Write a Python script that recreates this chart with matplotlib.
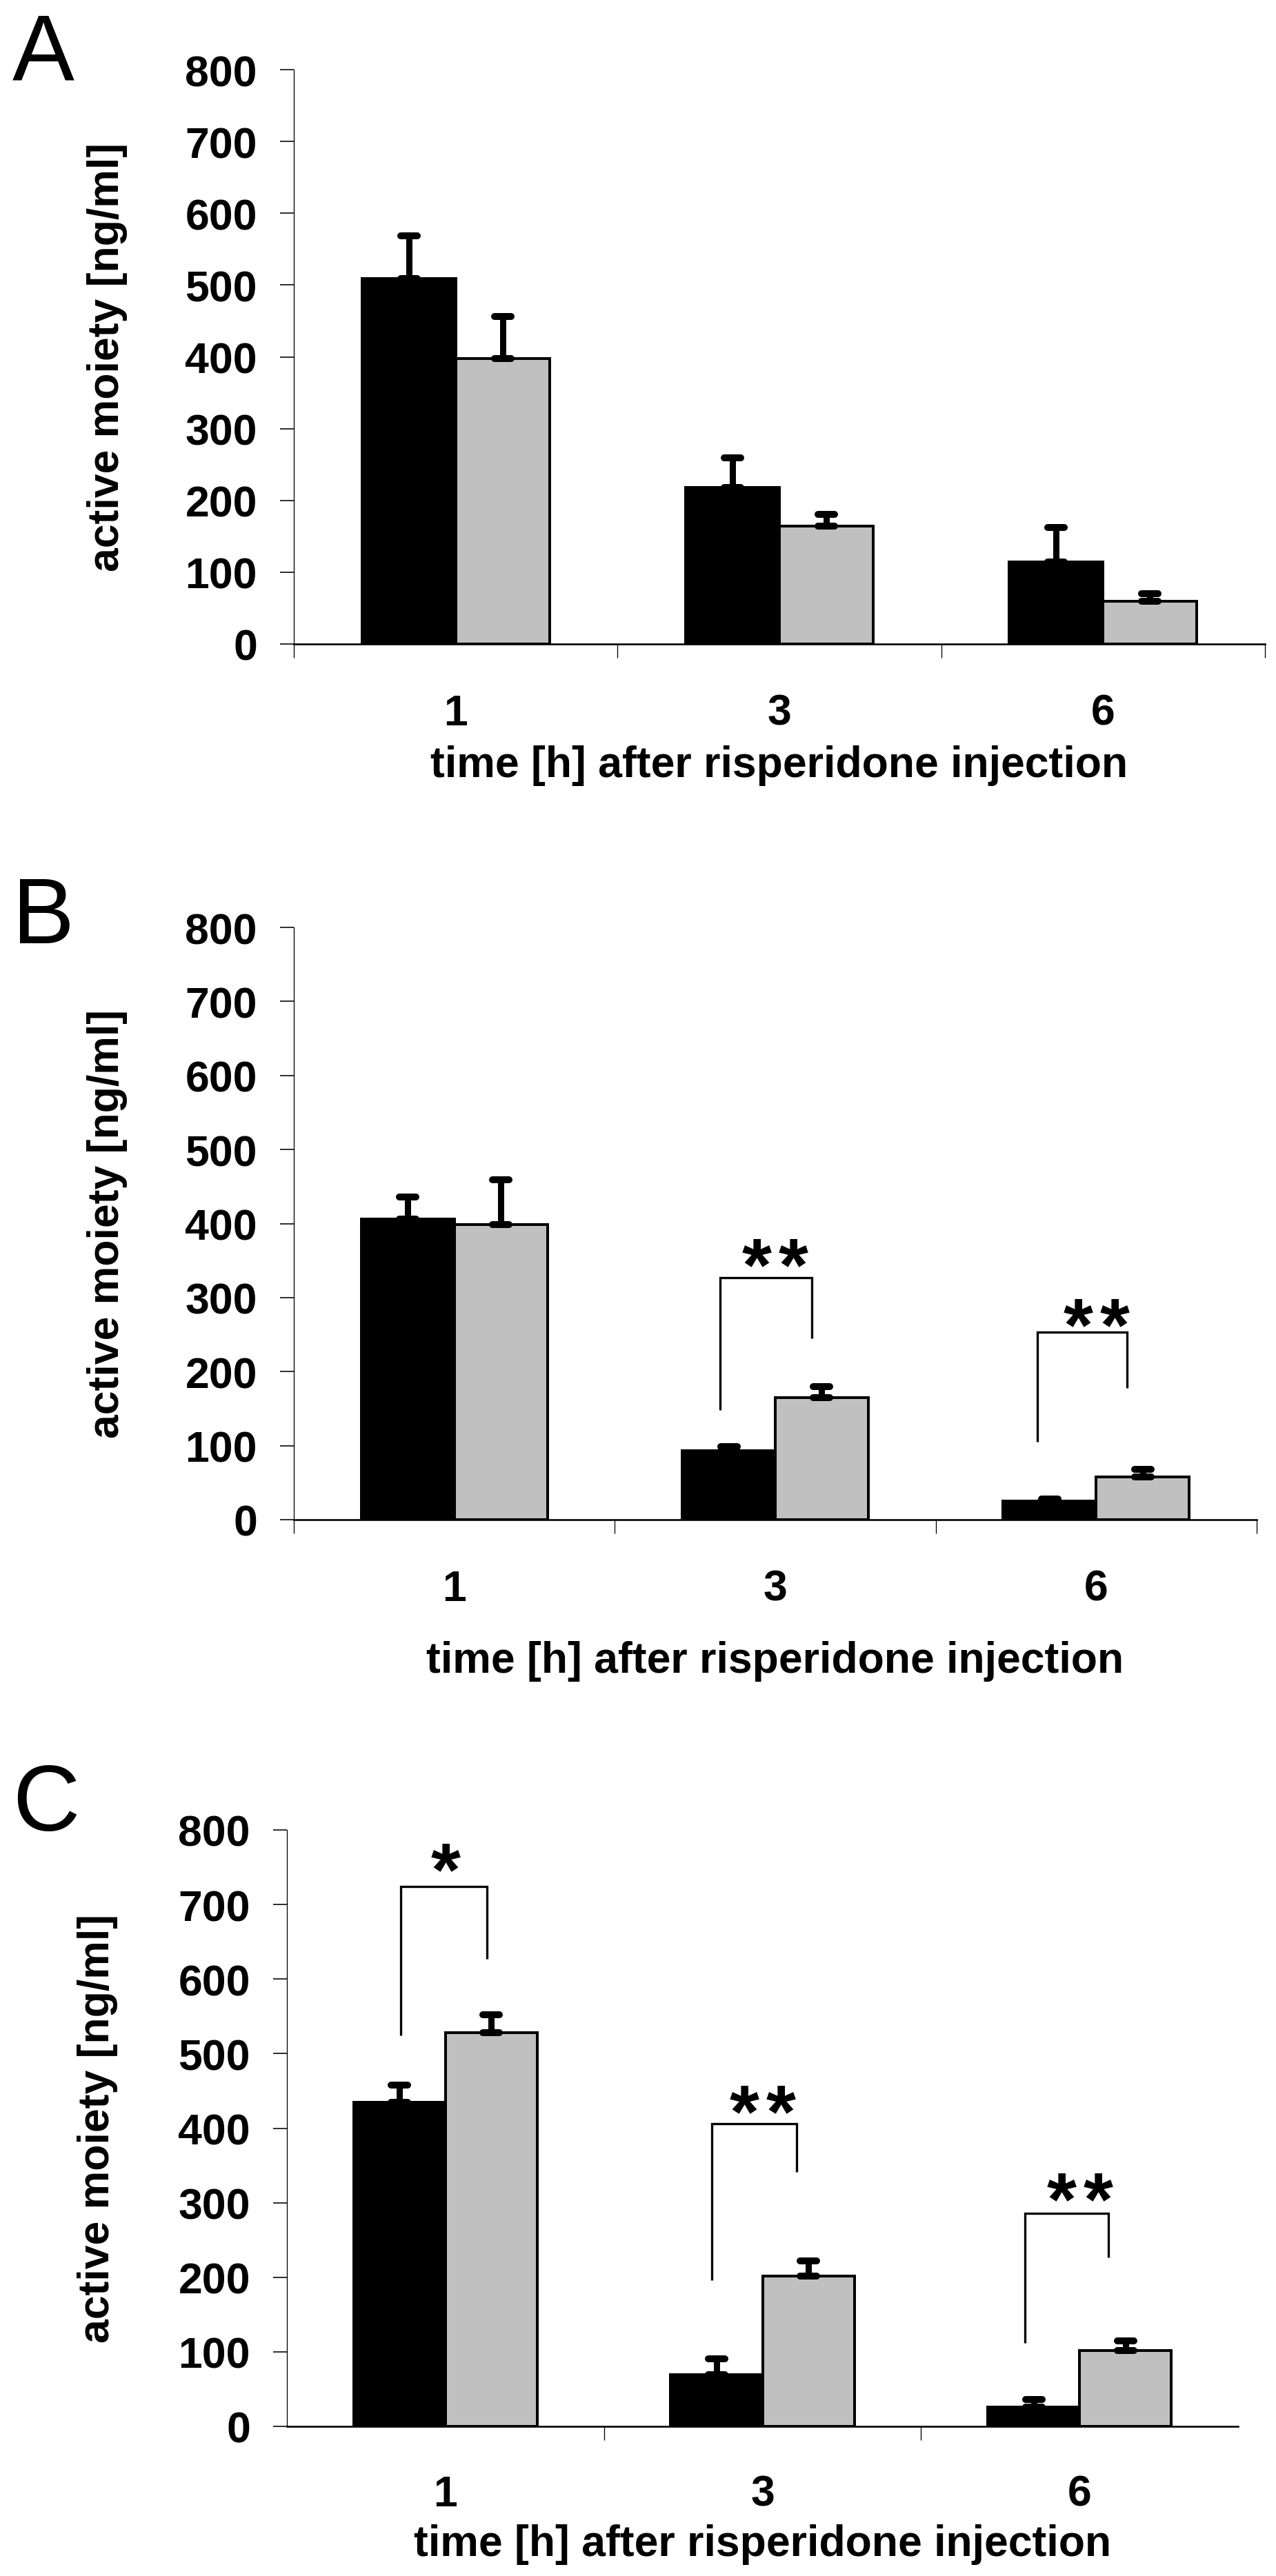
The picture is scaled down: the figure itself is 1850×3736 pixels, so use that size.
import matplotlib
matplotlib.use("Agg")
import matplotlib.pyplot as plt
from matplotlib.markers import MarkerStyle
from matplotlib.transforms import ScaledTranslation
from matplotlib.textpath import TextPath
from matplotlib.font_manager import FontProperties
from matplotlib.path import Path
import numpy as np

plt.rcParams['font.family'] = ['Liberation Sans', 'DejaVu Sans']

# ---------------- data ----------------
categories = ['1', '3', '6']
x_label = 'time [h] after risperidone injection'
y_label = 'active moiety [ng/ml]'
y_ticks = [0, 100, 200, 300, 400, 500, 600, 700, 800]
panel_letters = ['A', 'B', 'C']

a_black = [509, 218, 114]
a_black_err = [60, 41, 48]
a_gray = [398, 164, 60]
a_gray_err = [58, 17, 10]

b_black = [406, 93, 25]
b_black_err = [30, 6, 3]
b_gray = [399, 165, 58]
b_gray_err = [60, 15, 10]

c_black = [435, 69, 26]
c_black_err = [23, 22, 10]
c_gray = [528, 202, 102]
c_gray_err = [24, 20, 13]

# significance brackets: (category, left leg bottom, bracket top, right leg bottom, stars, star centre)
a_sig = []
b_sig = [(1, 148, 327, 245, '**', 362),
         (2, 105, 253, 178, '**', 281)]
c_sig = [(0, 524, 724, 627, '*', 765),
         (1, 196, 406, 341, '**', 440),
         (2, 112, 286, 227, '**', 323)]

# ---------------- layout (pixels of a 1850x3737 canvas) ----------------
W, H = 1850, 3737
DPI = 100
fig = plt.figure(figsize=(W / DPI, H / DPI), dpi=DPI)

panels = [
    dict(box=(426, 1834, 102, 935), black=a_black, berr=a_black_err, gray=a_gray, gerr=a_gray_err,
         sig=a_sig, xlab_off=192, tick_pad=71, ylab_off=270, letter_base=115, edge_ticks=True,
         leg_off=[]),
    dict(box=(426, 1822, 1346, 2205), black=b_black, berr=b_black_err, gray=b_gray, gerr=b_gray_err,
         sig=b_sig, xlab_off=221, tick_pad=71, ylab_off=270, letter_base=1368, edge_ticks=True,
         leg_off=[(-0.171, 0.113), (-0.184, 0.096)]),
    dict(box=(416, 1795, 2655, 3520), black=c_black, berr=c_black_err, gray=c_gray, gerr=c_gray_err,
         sig=c_sig, xlab_off=187, tick_pad=69, ylab_off=274, letter_base=2655, edge_ticks=False,
         leg_off=[(-0.141, 0.131), (-0.159, 0.107), (-0.172, 0.091)]),
]

px = 72.0 / DPI  # points per pixel
bar_w = 0.29
gray_col = '#C0C0C0'
cap_marker = MarkerStyle('_', capstyle='round')
star_pitch = 53  # px between asterisks

# star glyph: size it so the ink is ~41 px tall, and find its ink centre above the baseline
star_prop = FontProperties(family='Liberation Sans', weight='bold')
tp = TextPath((0, 0), '*', size=100, prop=star_prop)
mask = (tp.codes != Path.CLOSEPOLY) & (tp.codes != Path.STOP) if tp.codes is not None else slice(None)
verts = tp.vertices[mask]
ymin, ymax = verts[:, 1].min(), verts[:, 1].max()
ink_h = ymax - ymin
star_size = 100 * (41 * px) / ink_h
star_center_px = (ymax + ymin) / 2 * (star_size / 100) / px

for i, p in enumerate(panels):
    l, r, t, b = p['box']
    ax = fig.add_axes([l / W, (H - b) / H, (r - l) / W, (b - t) / H])
    x = np.arange(len(categories)) + 0.5
    xb = x - bar_w / 2
    xg = x + bar_w / 2

    ax.bar(xb, p['black'], width=bar_w, color='black', edgecolor='black', linewidth=4 * px, zorder=2)
    ax.bar(xg, p['gray'], width=bar_w, color=gray_col, edgecolor='black', linewidth=4 * px, zorder=2)

    for xs, vals, errs in ((xb, p['black'], p['berr']), (xg, p['gray'], p['gerr'])):
        eb = ax.errorbar(xs, vals, yerr=[np.zeros(len(errs)), errs], fmt='none', ecolor='black',
                         elinewidth=9 * px, capsize=24 * px, capthick=10 * px, zorder=3)
        for cl in eb[1]:
            cl.set_marker(cap_marker)
            cl.set_markersize(24 * px)
            cl.set_markeredgewidth(10 * px)
        for lc in eb[2]:
            lc.set_capstyle('round')

    for (cat, lb, top, rb, stars, sc), (ol, orr) in zip(p['sig'], p['leg_off']):
        xl = x[cat] + ol
        xr = x[cat] + orr
        ax.plot([xl, xl, xr, xr], [lb, top, top, rb], color='black', lw=3.3 * px, zorder=3,
                solid_joinstyle='miter', solid_capstyle='butt')
        n = len(stars)
        for k in range(n):
            dx = (k - (n - 1) / 2) * star_pitch
            ax.text(x[cat], sc, '*', ha='center', va='baseline', fontsize=star_size,
                    fontweight='bold', color='black', zorder=4,
                    transform=ax.transData + ScaledTranslation(dx / DPI, -star_center_px / DPI,
                                                               fig.dpi_scale_trans))

    ax.set_xlim(0, 3)
    ax.set_ylim(0, 800)
    ax.set_yticks(y_ticks)
    ax.set_yticklabels([str(v) for v in y_ticks])
    ax.tick_params(axis='y', direction='out', length=20 * px, width=1.6 * px,
                   pad=33 * px, labelsize=45)
    for lab in ax.get_yticklabels():
        lab.set_fontweight('bold')

    if p['edge_ticks']:
        ax.set_xticks([0, 1, 2, 3])
    else:
        ax.set_xticks([1, 2])
    ax.set_xticklabels([])
    ax.set_xticks(x, minor=True)
    ax.set_xticklabels(categories, minor=True, fontsize=45, fontweight='bold')
    ax.tick_params(axis='x', which='major', direction='out', length=20 * px, width=1.3 * px)
    ax.tick_params(axis='x', which='minor', length=0, pad=p['tick_pad'] * px)

    for s in ('top', 'right'):
        ax.spines[s].set_visible(False)
    ax.spines['left'].set_linewidth(1.3 * px)
    ax.spines['bottom'].set_linewidth(2.6 * px)
    ax.spines['bottom'].set_zorder(4)

    ax.text(0.5, 0, x_label, transform=ax.transAxes + ScaledTranslation(0, -p['xlab_off'] / DPI, fig.dpi_scale_trans),
            ha='center', va='baseline', fontsize=45, fontweight='bold')
    ax.text(0, 0.5, y_label, transform=ax.transAxes + ScaledTranslation(-p['ylab_off'] / DPI, 0, fig.dpi_scale_trans),
            ha='center', va='center', rotation=90, fontsize=45, fontweight='bold')

    fig.text(18 / W, 1 - p['letter_base'] / H, panel_letters[i], ha='left', va='baseline', fontsize=97)

fig.savefig('out.png', dpi=DPI, facecolor='white')
